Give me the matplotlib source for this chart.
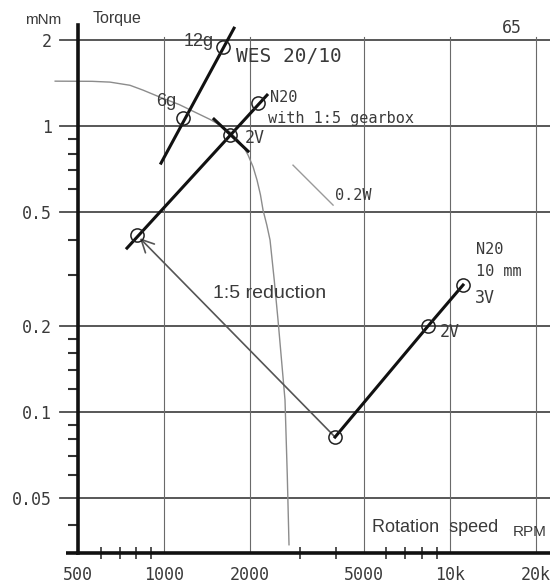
import matplotlib
matplotlib.use("Agg")
import matplotlib.pyplot as plt
from matplotlib.ticker import FixedLocator, NullFormatter

# ---------------- data ----------------
x_ticks = [500, 1000, 2000, 5000, 10000, 20000]
x_ticklabels = ["500", "1000", "2000", "5000", "10k", "20k"]
y_ticks = [0.05, 0.1, 0.2, 0.5, 1, 2]
y_ticklabels = ["0.05", "0.1", "0.2", "0.5", "1", "2"]
x_minor = [600, 700, 800, 900, 3000, 4000, 6000, 7000, 8000, 9000]
y_minor = [0.04, 0.06, 0.07, 0.08, 0.09, 0.12, 0.14, 0.16, 0.18, 0.3, 0.4, 0.6, 0.7, 0.8, 0.9]

# WES 20/10 characteristic
wes_line_rpm = [976, 1758]
wes_line_T = [0.742, 2.203]
wes_pts_rpm = [1166, 1609]
wes_pts_T = [1.066, 1.89]

# N20 with 1:5 gearbox
gear_line_rpm = [742, 2293]
gear_line_T = [0.374, 1.284]
gear_pts_rpm = [804, 1702, 2133]
gear_pts_T = [0.415, 0.930, 1.204]

# N20 10 mm direct
n20_pts_rpm = [3968, 8396, 11130]
n20_pts_T = [0.0815, 0.1995, 0.2777]

# 0.2 W constant-power segment and its leader
power_rpm = [1496, 1968]
power_T = [1.058, 0.817]
leader_rpm = [2828, 3905]
leader_T = [0.730, 0.529]

# grey load curve
curve_rpm = [416, 560, 647, 760, 844, 968, 1130, 1305, 1450, 1570, 1700, 1816, 1900, 1968,
             2050, 2116, 2175, 2221, 2290, 2350, 2430, 2506, 2580, 2651, 2700, 2738]
curve_T = [1.437, 1.435, 1.426, 1.39, 1.337, 1.263, 1.19, 1.110, 1.055, 1.008, 0.955, 0.893, 0.845, 0.792,
           0.72, 0.647, 0.575, 0.508, 0.45, 0.399, 0.29, 0.2094, 0.15, 0.1099, 0.06, 0.0342]

# ---------------- figure ----------------
W, H = 550, 585
fig = plt.figure(figsize=(W / 100, H / 100), dpi=100)
fig.patch.set_facecolor("white")
ax = fig.add_axes([78 / W, 32 / H, 472 / W, 528 / H])
ax.set_xscale("log")
ax.set_yscale("log")
XMIN, XMAX = 500, 22430
YMIN, YMAX = 0.032, 2.26
ax.set_xlim(XMIN, XMAX)
ax.set_ylim(YMIN, YMAX)
ax.set_facecolor("white")

MONO = ["DejaVu Sans Mono"]
SANS = ["Liberation Sans Narrow", "Liberation Sans", "DejaVu Sans"]
TXT = "#3a3a3a"

for s in ["top", "right"]:
    ax.spines[s].set_visible(False)
ax.spines["left"].set_linewidth(2.6)
ax.spines["bottom"].set_linewidth(2.6)
ax.spines["left"].set_color("#111111")
ax.spines["bottom"].set_color("#111111")

# extend axis lines slightly
ax.plot([455, XMIN], [YMIN, YMIN], color="#111111", lw=2.6, clip_on=False, solid_capstyle="butt")

ax.xaxis.set_major_locator(FixedLocator(x_ticks))
ax.set_xticklabels(x_ticklabels, fontfamily=MONO, fontsize=12, color=TXT)
ax.xaxis.set_minor_locator(FixedLocator(x_minor))
ax.xaxis.set_minor_formatter(NullFormatter())
ax.yaxis.set_major_locator(FixedLocator(y_ticks))
ax.set_yticklabels(y_ticklabels, fontfamily=MONO, fontsize=12, color=TXT)
ax.yaxis.set_minor_locator(FixedLocator(y_minor))
ax.yaxis.set_minor_formatter(NullFormatter())
ax.tick_params(axis="x", which="major", length=0, pad=9)
ax.tick_params(axis="y", which="major", length=0, pad=19)
ax.tick_params(axis="x", which="minor", direction="inout", length=8, width=1.2, color="#333333")
ax.tick_params(axis="y", which="minor", direction="out", length=7, width=1.5, color="#333333")

# grid lines
for t in y_ticks:
    ax.plot([432, XMAX], [t, t], color="#4a4a4a", lw=1.3, clip_on=False, zorder=1)
for r in x_ticks[1:]:
    ax.plot([r, r], [YMIN, 2.05], color="#6a6a6a", lw=0.8, zorder=1)

# grey curve
ax.plot(curve_rpm, curve_T, color="#8c8c8c", lw=1.0, clip_on=False, zorder=2)

# 0.2W leader
ax.plot(leader_rpm, leader_T, color="#9a9a9a", lw=1.0, zorder=2)

# 1:5 reduction arrow
ax.annotate("", xy=(gear_pts_rpm[0], gear_pts_T[0]), xytext=(n20_pts_rpm[0], n20_pts_T[0]),
            arrowprops=dict(arrowstyle="->,head_length=0.9,head_width=0.45", color="#555555",
                            lw=1.2, shrinkA=0, shrinkB=3), zorder=2)

# black characteristic lines
ax.plot(wes_line_rpm, wes_line_T, color="#111111", lw=2.2, zorder=3)
ax.plot(gear_line_rpm, gear_line_T, color="#111111", lw=2.2, zorder=3)
ax.plot(n20_pts_rpm, n20_pts_T, color="#111111", lw=2.2, zorder=3)
ax.plot(power_rpm, power_T, color="#111111", lw=2.2, zorder=3)

# circle markers
mk = dict(ls="none", marker="o", ms=9.5, mfc="none", mec="#222222", mew=1.1, zorder=4)
ax.plot(wes_pts_rpm, wes_pts_T, **mk)
ax.plot(gear_pts_rpm, gear_pts_T, **mk)
ax.plot(n20_pts_rpm, n20_pts_T, **mk)


def ftext(xp, yp, s, fam=MONO, size=11.5, ha="left", **kw):
    fig.text(xp / W, 1 - yp / H, s, fontfamily=fam, fontsize=size, ha=ha, va="center",
             color=TXT, **kw)


ftext(25, 20, "mNm", fam=SANS, size=11)
ftext(93, 19, "Torque", fam=SANS, size=11.5)
ftext(502, 28, "65", size=12)
ftext(184, 42, "12g", fam=SANS, size=13)
ftext(236, 56, "WES 20/10", size=14)
ftext(156, 102, "6g", fam=SANS, size=13)
ftext(270, 97, "N20", size=11)
ftext(268, 119, "with 1:5 gearbox", size=11)
ftext(245, 138, "2V", size=12)
ftext(335, 196, "0.2W", size=11)
ftext(476, 250, "N20", size=11)
ftext(476, 272, "10 mm", size=11)
ftext(475, 298, "3V", size=12)
ftext(440, 332, "2V", size=12)
ftext(213, 293, "1:5 reduction", fam=SANS, size=14)
ftext(372, 528, "Rotation  speed", fam=SANS, size=13)
ftext(513, 532, "RPM", fam=SANS, size=11)

fig.savefig("out.png", dpi=100, facecolor="white")
